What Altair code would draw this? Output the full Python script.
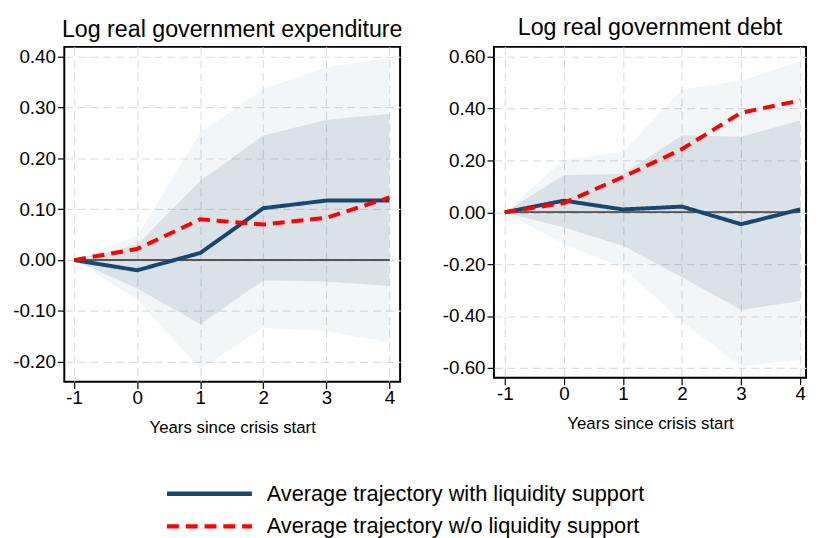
import altair as alt
import pandas as pd

years = [-1, 0, 1, 2, 3, 4]
series_names = ["Average trajectory with liquidity support",
                "Average trajectory w/o liquidity support"]

# Log real government expenditure
exp_with = [0.0, -0.020, 0.014, 0.102, 0.117, 0.117]
exp_without = [0.0, 0.022, 0.080, 0.070, 0.083, 0.123]
exp_in_lo = [0.0, -0.056, -0.126, -0.040, -0.042, -0.051]
exp_in_hi = [0.0, 0.030, 0.156, 0.245, 0.276, 0.287]
exp_out_lo = [0.0, -0.078, -0.214, -0.133, -0.140, -0.162]
exp_out_hi = [0.0, 0.048, 0.250, 0.336, 0.379, 0.397]
exp_ticks = [-0.2, -0.1, 0.0, 0.1, 0.2, 0.3, 0.4]

# Log real government debt
debt_with = [0.0, 0.045, 0.011, 0.022, -0.046, 0.011]
debt_without = [0.0, 0.036, 0.136, 0.244, 0.384, 0.431]
debt_in_lo = [0.0, -0.059, -0.129, -0.250, -0.377, -0.342]
debt_in_hi = [0.0, 0.144, 0.148, 0.297, 0.291, 0.354]
debt_out_lo = [0.0, -0.123, -0.214, -0.422, -0.594, -0.568]
debt_out_hi = [0.0, 0.205, 0.233, 0.475, 0.507, 0.583]
debt_ticks = [-0.6, -0.4, -0.2, 0.0, 0.2, 0.4, 0.6]

FONT = "Liberation Sans"
NAVY = "#1a476f"
RED = "#ff0000"
DASHES = [[1, 0], [12, 7]]

color_scale = alt.Scale(domain=series_names, range=[NAVY, RED])
dash_scale = alt.Scale(domain=series_names, range=DASHES)


def panel(title, w, wo, in_lo, in_hi, out_lo, out_hi, ticks, ydom, xdom, width, height, toff):
    bands = pd.DataFrame({"year": years, "in_lo": in_lo, "in_hi": in_hi,
                          "out_lo": out_lo, "out_hi": out_hi})
    lines = pd.DataFrame({
        "year": years + years,
        "value": w + wo,
        "series": [series_names[0]] * len(years) + [series_names[1]] * len(years),
    })
    xsc = alt.Scale(domain=xdom, nice=False, zero=False)
    ysc = alt.Scale(domain=ydom, nice=False, zero=False)
    common = dict(grid=True, gridDash=[8, 5], gridColor="#dedede", gridWidth=1.2,
                  domain=False, tickColor="black", tickSize=7, tickWidth=1.2,
                  labelFontSize=19, labelColor="black", labelFont=FONT)
    xax = alt.Axis(values=years, title="Years since crisis start",
                   labelExpr="(datum.value < 0 ? '-' : '') + format(abs(datum.value), 'd')",
                   titleFontSize=17, titleFontWeight="normal", titleFont=FONT,
                   labelPadding=0, titlePadding=12, titleColor="black", **common)
    yax = alt.Axis(values=ticks, title=None,
                   labelExpr="(datum.value < 0 ? '-' : '') + format(abs(datum.value), '.2f')",
                   labelPadding=2, **common)
    base = alt.Chart(bands)
    outer = base.mark_area(color=NAVY, opacity=0.05).encode(
        x=alt.X("year:Q", scale=xsc, axis=xax),
        y=alt.Y("out_lo:Q", scale=ysc, axis=yax),
        y2="out_hi:Q")
    inner = base.mark_area(color=NAVY, opacity=0.115).encode(
        x="year:Q", y="in_lo:Q", y2="in_hi:Q")
    zero = alt.Chart(bands).mark_rule(color="#555555", strokeWidth=1.2).encode(
        x=alt.datum(years[0]), x2=alt.datum(years[-1]), y=alt.datum(0))
    ln = alt.Chart(lines).mark_line(strokeWidth=4).encode(
        x="year:Q", y="value:Q",
        color=alt.Color("series:N", scale=color_scale, legend=None),
        strokeDash=alt.StrokeDash("series:N", scale=dash_scale, legend=None),
    )
    return alt.layer(outer, inner, zero, ln).properties(
        width=width, height=height,
        view=alt.ViewBackground(stroke="black", strokeWidth=2),
        title=alt.Title(title, fontSize=23.5, font=FONT, fontWeight="normal",
                        color="black", offset=toff))


left = panel("Log real government expenditure", exp_with, exp_without, exp_in_lo, exp_in_hi,
             exp_out_lo, exp_out_hi, exp_ticks, [-0.239, 0.419], [-1.157, 4.17], 340, 339, 5.5)
right = panel("Log real government debt", debt_with, debt_without, debt_in_lo, debt_in_hi,
              debt_out_lo, debt_out_hi, debt_ticks, [-0.638, 0.638], [-1.184, 4.1], 316, 335, 7.5)

# Legend drawn as its own small chart
leg_df = pd.DataFrame({"series": series_names})
leg_y = alt.Y("series:N", scale=alt.Scale(domain=series_names, paddingInner=0, paddingOuter=0),
              axis=None)
leg_rule = alt.Chart(leg_df).mark_rule(strokeWidth=4.5).encode(
    x=alt.value(104), x2=alt.value(190), y=leg_y,
    color=alt.Color("series:N", scale=color_scale, legend=None),
    strokeDash=alt.StrokeDash("series:N", scale=dash_scale, legend=None))
leg_text = alt.Chart(leg_df).mark_text(align="left", baseline="middle", fontSize=22,
                                       font=FONT, color="black").encode(
    x=alt.value(205), y=leg_y, text="series:N")
legend = alt.layer(leg_rule, leg_text).properties(
    width=600, height=66, view=alt.ViewBackground(strokeWidth=0))

top = alt.hconcat(left, right, spacing=37)
chart = alt.vconcat(top, legend, spacing=42).properties(
    padding={"left": 3, "top": 4, "right": 0, "bottom": 0}
).configure(font=FONT)

chart.save("out.html", embed_options={"renderer": "svg", "actions": False})
